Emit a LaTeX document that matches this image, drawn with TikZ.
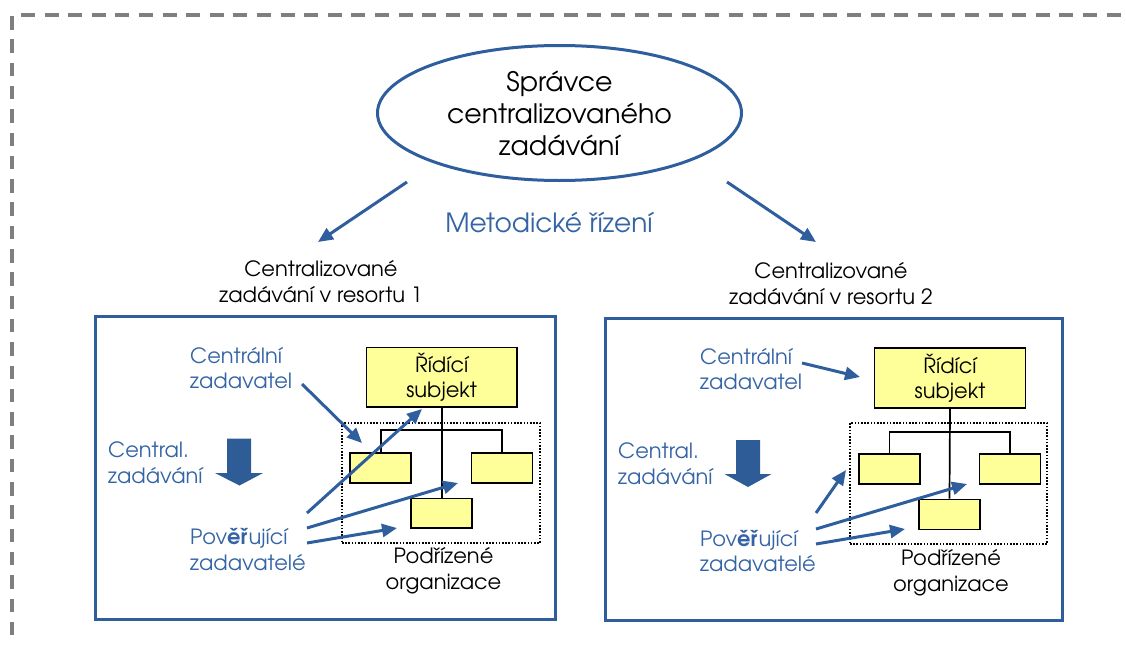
\documentclass[tikz,border=0pt]{standalone}
\usepackage{fontspec}
\setmainfont{TeX Gyre Adventor}
\usetikzlibrary{shapes.geometric,arrows.meta}
\definecolor{bl}{RGB}{46,94,158}
\definecolor{bltext}{RGB}{52,100,165}
\definecolor{arrfill}{RGB}{46,92,150}
\definecolor{yel}{RGB}{255,255,153}
\definecolor{dgray}{RGB}{127,127,127}
\begin{document}
\begin{tikzpicture}[x=1pt,y=-1pt,
  barrow/.style={draw=bl, line width=3pt, -{Triangle[length=15pt,width=13pt]}},
  panel/.style={draw=bl, line width=3pt},
  ybox/.style={draw=black, line width=1.7pt, fill=yel, inner sep=0pt},
  dotbox/.style={draw=black, line width=1.6pt, dash pattern=on 1.6pt off 1.6pt},
  tree/.style={draw=black, line width=1.7pt},
  btext/.style={text=bltext, align=left, font=\fontsize{21}{25.8}\selectfont, inner sep=0pt, anchor=west},
  ktext/.style={align=center, font=\fontsize{21}{26}\selectfont, inner sep=0pt},
  bigarrow/.style={fill=arrfill}
]
\useasboundingbox (0,0) rectangle (1126,645);

% dashed frame
\draw[dgray, line width=4pt, dash pattern=on 14pt off 9.6pt] (21,15) -- (1126,15);
\draw[dgray, line width=4pt, dash pattern=on 13.5pt off 9.8pt] (12,16) -- (12,645);

% top ellipse
\node[ellipse, draw=bl, line width=3pt, minimum width=364pt, minimum height=135pt, inner sep=0pt,
      align=center, font=\fontsize{26.8}{32}\selectfont] (mgr) at (559.5,113)
      {Správce\\centralizovaného\\zadávání};

\coordinate (l0) at (407,182); \coordinate (l1) at (318,242);
\coordinate (r0) at (727,182); \coordinate (r1) at (816,242);
\draw[barrow] (l0) -- (l1);
\draw[barrow] (r0) -- (r1);

\node[text=bltext, inner sep=0pt, font=\fontsize{26.5}{30}\selectfont] (met) at (549,223) {Metodické řízení};

\node[ktext] (res1) at (321,282) {Centralizované\\zadávání v resortu 1};
\node[ktext] (res2) at (831,283.5) {Centralizované\\zadávání v resortu 2};

% ---------- left panel ----------
\draw[panel] (95.5,316) rectangle (555.5,619.5);
\node[dotbox, minimum width=198pt, minimum height=120pt, inner sep=0pt] (dotA) at (441,483) {};
\node[ybox, minimum width=150.5pt, minimum height=59.5pt, align=center,
      font=\fontsize{21}{25}\selectfont] (ridA) at (441.7,377.3) {Řídící\\subjekt};
\node[ybox, minimum width=61pt, minimum height=29.5pt] (sA1) at (380.8,468) {};
\node[ybox, minimum width=61pt, minimum height=29.5pt] (sA2) at (502,468) {};
\node[ybox, minimum width=61pt, minimum height=29.5pt] (sA3) at (441.7,513.3) {};
\coordinate (jA) at (ridA.south |- 0,430);
\draw[tree] (ridA.south) -- (sA3.north);
\draw[tree] (sA1.north) |- (jA) -| (sA2.north);

\node[btext] (czA) at (190,368) {Centrální\\zadavatel};
\node[btext] (cdA) at (108,463) {Central.\\zadávání};
\node[btext] (pzA) at (190,549.5) {Pov\textbf{ěř}ující\\zadavatelé};
\node[ktext] (poA) at (443.5,571) {Podřízené\\organizace};

\fill[bigarrow] (227,438.5) -- (251,438.5) -- (251,473) -- (263,473) -- (239.5,485.5)
  -- (215,473) -- (227,473) -- cycle;

\coordinate (a1s) at (302,384); \coordinate (a1e) at (362,443);
\coordinate (a2s) at (307,513); \coordinate (a2e) at (422,409);
\coordinate (a3s) at (307,528); \coordinate (a3e) at (458,483);
\coordinate (a4s) at (307,543); \coordinate (a4e) at (397,528);
\draw[barrow] (a1s) -- (a1e);
\draw[barrow] (a2s) -- (a2e);
\draw[barrow] (a3s) -- (a3e);
\draw[barrow] (a4s) -- (a4e);

% ---------- right panel ----------
\draw[panel] (605.5,318) rectangle (1062,620.5);
\node[dotbox, minimum width=197pt, minimum height=121pt, inner sep=0pt] (dotB) at (948.5,483.5) {};
\node[ybox, minimum width=151pt, minimum height=60pt, align=center,
      font=\fontsize{21}{25}\selectfont] (ridB) at (950,378) {Řídící\\subjekt};
\node[ybox, minimum width=61pt, minimum height=30pt] (sB1) at (889.5,469) {};
\node[ybox, minimum width=61pt, minimum height=30pt] (sB2) at (1010,469) {};
\node[ybox, minimum width=61pt, minimum height=30pt] (sB3) at (949.5,514.5) {};
\coordinate (jB) at (ridB.south |- 0,432);
\draw[tree] (ridB.south) -- (sB3.north);
\draw[tree] (sB1.north) |- (jB) -| (sB2.north);

\node[btext] (czB) at (700,369) {Centrální\\zadavatel};
\node[btext] (cdB) at (618,464) {Central.\\zadávání};
\node[btext] (pzB) at (700,551) {Pov\textbf{ěř}ující\\zadavatelé};
\node[ktext] (poB) at (951,573) {Podřízené\\organizace};

\fill[bigarrow] (736,440) -- (760,440) -- (760,474) -- (771.5,474) -- (748,487)
  -- (724.5,474) -- (736,474) -- cycle;

\coordinate (b1s) at (802,363); \coordinate (b1e) at (860,377);
\coordinate (b2s) at (816,513); \coordinate (b2e) at (846,470);
\coordinate (b3s) at (816,529); \coordinate (b3e) at (967,484);
\coordinate (b4s) at (816,544); \coordinate (b4e) at (905,529);
\draw[barrow] (b1s) -- (b1e);
\draw[barrow] (b2s) -- (b2e);
\draw[barrow] (b3s) -- (b3e);
\draw[barrow] (b4s) -- (b4e);
\end{tikzpicture}
\end{document}
